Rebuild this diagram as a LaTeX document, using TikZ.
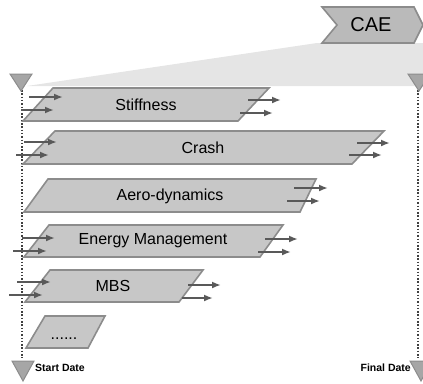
\documentclass[tikz,border=0pt]{standalone}
\usepackage{fontspec}
\setmainfont{Liberation Sans}
\usetikzlibrary{arrows.meta}
\begin{document}
\begin{tikzpicture}[x=1pt,y=-1pt,>={Latex[length=9pt,width=7pt]},
    task/.style={draw=black!45,fill=black!22,line width=1.6pt},
    flow/.style={->,draw=black!65,line width=2.3pt},
    marker/.style={draw=black!45,fill=black!35,line width=1pt},
    lbl/.style={font=\fontsize{16}{19}\selectfont,inner sep=0pt},
    datelbl/.style={font=\fontsize{10.5}{12}\selectfont\bfseries,inner sep=0pt}]
  \useasboundingbox (0,0) rectangle (423,383);
  % CAE phase and its span
  \fill [black!10] (27,86) -- (317,43) -- (423,43) -- (423,86) -- cycle;
  \draw [task,fill=black!27] (322,7) -- (414,7) -- (423,25) -- (414,43)
    -- (322,43) -- (337,25) -- cycle;
  \node [font=\fontsize{20}{24}\selectfont,inner sep=0pt] (cae) at (371,25) {CAE};
  % start and final date
  \draw [black!75,line width=1.6pt,dash pattern=on 1.5pt off 1.8pt] (22,90) -- (22,358);
  \draw [black!75,line width=1.6pt,dash pattern=on 1.5pt off 1.8pt] (418,90) -- (418,358);
  \draw [marker] (10,74) -- (32,74) -- (21,91) -- cycle;
  \draw [marker] (408,74) -- (430,74) -- (419,91) -- cycle;
  \draw [marker] (12,361) -- (34,361) -- (23,381) -- cycle;
  \draw [marker] (410,361) -- (432,361) -- (421,381) -- cycle;
  \node [datelbl,anchor=west] (start) at (35,368) {Start Date};
  \node [datelbl,anchor=east] (final) at (411,368) {Final Date};
  % disciplines
  \draw [task] (53,88) -- (269,88) -- (238,121) -- (23,121) -- cycle;
  \node [lbl] (stiff) at (146,105) {Stiffness};
  \draw [task] (55,131) -- (384,131) -- (352,164) -- (23,164) -- cycle;
  \node [lbl] (crash) at (203,148) {Crash};
  \draw [task] (48,179) -- (316,179) -- (300,212) -- (24,212) -- cycle;
  \node [lbl] (aero) at (170,196) {Aero-dynamics};
  \draw [task] (49,225) -- (283,225) -- (260,257) -- (24,257) -- cycle;
  \node [lbl] (energy) at (153,241) {Energy Management};
  \draw [task] (50,270) -- (203,270) -- (179,302) -- (25,302) -- cycle;
  \node [lbl] (mbs) at (113,286) {MBS};
  \draw [task] (45,316) -- (105,316) -- (88,348) -- (26,348) -- cycle;
  \node [lbl,anchor=base] (more) at (64,339) {......};
  % hand-overs
  \draw [flow] (29,97) -- (63,97);
  \draw [flow] (21,110) -- (54,110);
  \draw [flow] (248,100) -- (281,100);
  \draw [flow] (240,113) -- (273,113);
  \draw [flow] (24,142) -- (57,142);
  \draw [flow] (16,155) -- (49,155);
  \draw [flow] (357,143) -- (390,143);
  \draw [flow] (349,155) -- (382,155);
  \draw [flow] (294,188) -- (328,188);
  \draw [flow] (287,201) -- (320,201);
  \draw [flow] (22,238) -- (55,238);
  \draw [flow] (13,251) -- (47,251);
  \draw [flow] (265,239) -- (298,239);
  \draw [flow] (258,252) -- (291,252);
  \draw [flow] (17,282) -- (51,282);
  \draw [flow] (9,295) -- (43,295);
  \draw [flow] (188,285) -- (221,285);
  \draw [flow] (182,298) -- (213,298);
\end{tikzpicture}
\end{document}
